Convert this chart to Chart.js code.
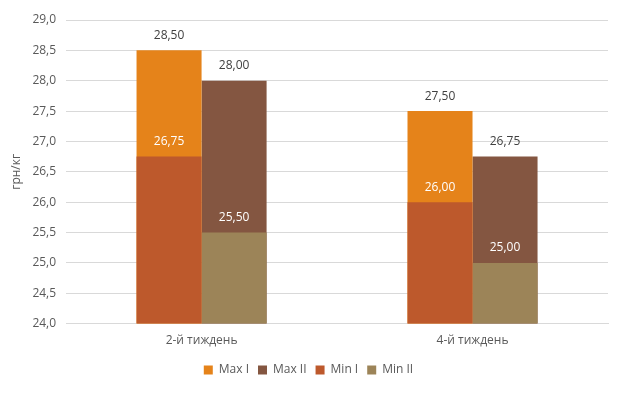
<!DOCTYPE html>
<html>
<head>
<meta charset="utf-8">
<script src="https://cdn.jsdelivr.net/npm/chart.js@4/dist/chart.umd.min.js"></script>
<style>
  html, body { margin: 0; padding: 0; background: #fff; }
  #wrap { width: 623px; height: 393px; }
</style>
</head>
<body>
<div id="wrap"><canvas id="chart" width="623" height="393"></canvas></div>
<script>
// дані
var categories = ["2-й тиждень", "4-й тиждень"];
var maxI = [28.5, 27.5];
var maxII = [28.0, 26.75];
var minI = [26.75, 26.0];
var minII = [25.5, 25.0];
var yTicks = [24, 24.5, 25, 25.5, 26, 26.5, 27, 27.5, 28, 28.5, 29];

function fmt(v, d) {
    return v.toFixed(d).replace(".", ",");
}

// підписи значень над стовпчиками
var valueLabels = {
    id: "valueLabels",
    afterDatasetsDraw: function (chart) {
        var ctx = chart.ctx;
        ctx.save();
        ctx.font = "12px 'Open Sans', sans-serif";
        ctx.textAlign = "center";
        ctx.textBaseline = "middle";
        chart.data.datasets.forEach(function (ds, i) {
            var meta = chart.getDatasetMeta(i);
            meta.data.forEach(function (bar, j) {
                ctx.fillStyle = ds.labelColor;
                ctx.fillText(fmt(ds.data[j], 2), bar.x, bar.y - 15);
            });
        });
        ctx.restore();
    }
};

var ctx = document.getElementById("chart").getContext("2d");
new Chart(ctx, {
    type: "bar",
    data: {
        labels: categories,
        datasets: [
            { label: "Max I", data: maxI, stack: "I", order: 2, backgroundColor: "#E5831A", labelColor: "#404040" },
            { label: "Max II", data: maxII, stack: "II", order: 2, backgroundColor: "#845641", labelColor: "#404040" },
            { label: "Min I", data: minI, stack: "I", order: 1, backgroundColor: "#BD592C", labelColor: "#ffffff" },
            { label: "Min II", data: minII, stack: "II", order: 1, backgroundColor: "#9C8458", labelColor: "#ffffff" }
        ]
    },
    options: {
        responsive: false,
        animation: false,
        layout: { padding: { left: 9, right: 15, top: 20, bottom: 7 } },
        datasets: {
            bar: { categoryPercentage: 0.48, barPercentage: 1.0 }
        },
        scales: {
            x: {
                stacked: true,
                grid: { display: false },
                border: { color: "#d9d9d9" },
                ticks: { color: "#595959", font: { size: 12, family: "'Open Sans', sans-serif" }, padding: 2 },
                afterFit: function (axis) { axis.height += 5; }
            },
            y: {
                stacked: false,
                min: 24,
                max: 29,
                afterBuildTicks: function (axis) {
                    axis.ticks = yTicks.map(function (v) { return { value: v }; });
                },
                grid: { color: "#d9d9d9", drawTicks: false },
                border: { display: false },
                ticks: {
                    color: "#595959",
                    font: { size: 12, family: "'Open Sans', sans-serif" },
                    padding: 10,
                    callback: function (v) { return fmt(v, 1); }
                },
                title: {
                    display: true,
                    text: "грн/кг",
                    color: "#595959",
                    font: { size: 12, family: "'Open Sans', sans-serif" },
                    padding: { top: 0, bottom: -1 }
                }
            }
        },
        plugins: {
            legend: {
                position: "bottom",
                labels: {
                    boxWidth: 9,
                    boxHeight: 9,
                    color: "#595959",
                    font: { size: 12, family: "'Open Sans', sans-serif" },
                    padding: 9,
                    sort: function (a, b) { return a.datasetIndex - b.datasetIndex; }
                }
            },
            tooltip: { enabled: false }
        }
    },
    plugins: [valueLabels]
});
</script>
</body>
</html>
